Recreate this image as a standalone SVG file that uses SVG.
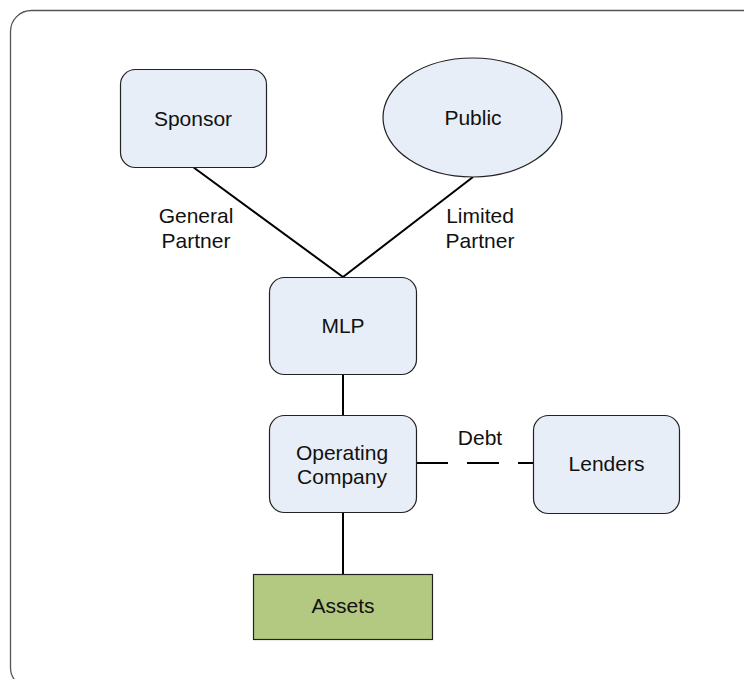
<svg xmlns="http://www.w3.org/2000/svg" width="744" height="679" viewBox="0 0 744 679">
<style>
  .frame{fill:#ffffff;stroke:#555555;stroke-width:1.3}
  .node{fill:#e8eef7;stroke:#222222;stroke-width:1.2}
  .asset{fill:#b3c982;stroke:#222222;stroke-width:1.2}
  .conn{stroke:#000000;stroke-width:2;fill:none}
  .dash{stroke-dasharray:32 19}
  text{font-family:"Liberation Sans",Arial,sans-serif;font-size:21px;fill:#111111;text-anchor:middle}
</style>
<rect width="744" height="679" fill="#ffffff"/>
<rect class="frame" x="10.5" y="10.5" width="760" height="678" rx="21" ry="21"/>
<g id="connectors">
  <line class="conn" x1="193" y1="167" x2="343" y2="277"/>
  <line class="conn" x1="473" y1="177" x2="343" y2="277"/>
  <line class="conn" x1="343" y1="374" x2="343" y2="415"/>
  <line class="conn dash" x1="416" y1="463" x2="533" y2="463"/>
  <line class="conn" x1="343" y1="512" x2="343" y2="574"/>
  <text x="196" y="223">General</text>
  <text x="196" y="248">Partner</text>
  <text x="480" y="223">Limited</text>
  <text x="480" y="248">Partner</text>
  <text x="480" y="445">Debt</text>
</g>
<g id="sponsor">
  <rect class="node" x="120.5" y="69.5" width="146" height="98" rx="15"/>
  <text x="193" y="126">Sponsor</text>
</g>
<g id="public">
  <ellipse class="node" cx="472.5" cy="117.5" rx="89.5" ry="59.5"/>
  <text x="473" y="125">Public</text>
</g>
<g id="mlp">
  <rect class="node" x="269.5" y="277.5" width="147" height="97" rx="15"/>
  <text x="343" y="333">MLP</text>
</g>
<g id="opco">
  <rect class="node" x="269.5" y="415.5" width="147" height="97" rx="15"/>
  <text x="342" y="460">Operating</text>
  <text x="342" y="484">Company</text>
</g>
<g id="lenders">
  <rect class="node" x="533.5" y="415.5" width="146" height="98" rx="15"/>
  <text x="606.5" y="471">Lenders</text>
</g>
<g id="assets">
  <rect class="asset" x="253.5" y="574.5" width="179" height="65"/>
  <text x="343" y="613">Assets</text>
</g>
</svg>
